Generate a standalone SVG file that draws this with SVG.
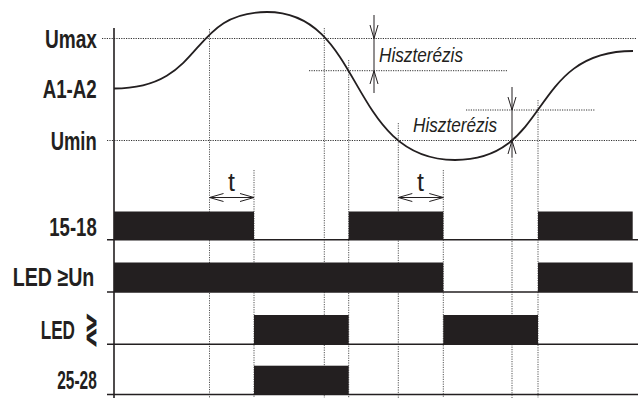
<svg xmlns="http://www.w3.org/2000/svg" width="639" height="398" viewBox="0 0 639 398">
<style>
.lbl{font-family:"Liberation Sans",Arial,sans-serif;font-weight:bold;font-size:26px;fill:#231f20}
.hys{font-family:"Liberation Sans",Arial,sans-serif;font-style:italic;font-size:21px;fill:#231f20}
.t{font-family:"Liberation Sans",Arial,sans-serif;font-size:25px;fill:#231f20;text-anchor:middle}
.dot{stroke:#333;stroke-width:1;stroke-dasharray:1.2 1.2;fill:none}
.vdot{stroke:#555;stroke-width:1;stroke-dasharray:1.2 1.2;fill:none}
.base{stroke:#231f20;stroke-width:1.5;fill:none}
.bar{fill:#231f20}
.thin{stroke:#231f20;stroke-width:1;fill:none}
</style>
<rect width="639" height="398" fill="#fff"/>
<g id="connectors">
  <g id="hdots">
    <line class="dot" x1="102" y1="38.5" x2="637" y2="38.5"/>
    <line class="dot" x1="107" y1="140.5" x2="637" y2="140.5"/>
    <line class="dot" x1="309" y1="70.7" x2="507" y2="70.7"/>
    <line class="dot" x1="466" y1="110" x2="595" y2="110"/>
  </g>
  <g id="vdots">
    <line class="vdot" x1="209.5" y1="29" x2="209.5" y2="398"/>
    <line class="vdot" x1="254" y1="170" x2="254" y2="398"/>
    <line class="vdot" x1="324.3" y1="28" x2="324.3" y2="398"/>
    <line class="vdot" x1="348.7" y1="60" x2="348.7" y2="398"/>
    <line class="vdot" x1="398.3" y1="123" x2="398.3" y2="398"/>
    <line class="vdot" x1="443.3" y1="170" x2="443.3" y2="398"/>
    <line class="vdot" x1="512" y1="157" x2="512" y2="398"/>
    <line class="vdot" x1="538" y1="100" x2="538" y2="398"/>
  </g>
  <g id="hyst-arrows">
    <line class="thin" x1="374" y1="15" x2="374" y2="93"/>
    <path class="thin" d="M370,25 L374,38.5 L378,25 M370,84 L374,70.7 L378,84"/>
    <line class="thin" x1="512" y1="87" x2="512" y2="157"/>
    <path class="thin" d="M508,97 L512,110 L516,97 M508,154 L512,140.5 L516,154"/>
  </g>
  <g id="t-arrows">
    <path class="thin" d="M209.5,197.5 L254,197.5 M223.5,193.5 L209.5,197.5 L223.5,201.5 M240,193.5 L254,197.5 L240,201.5"/>
    <path class="thin" d="M398.3,197.5 L443.3,197.5 M412.3,193.5 L398.3,197.5 L412.3,201.5 M429.3,193.5 L443.3,197.5 L429.3,201.5"/>
  </g>
</g>
<g id="axis">
  <line x1="114" y1="28" x2="114" y2="398" stroke="#231f20" stroke-width="1.6"/>
</g>
<g id="signal">
  <path d="M114,88.5 C205.8,88.5 187.4,12 267,12 C364.8,12 347.5,160 455,160 C551.7,160 528.5,51 633,51" fill="none" stroke="#231f20" stroke-width="1.8"/>
</g>
<g id="labels">
  <text class="lbl" x="45" y="47.5" textLength="52" lengthAdjust="spacingAndGlyphs">Umax</text>
  <text class="lbl" x="42.7" y="98.3" textLength="54" lengthAdjust="spacingAndGlyphs">A1-A2</text>
  <text class="lbl" x="50.7" y="149.5" textLength="46" lengthAdjust="spacingAndGlyphs">Umin</text>
  <text class="hys" x="379" y="62" textLength="84" lengthAdjust="spacingAndGlyphs">Hiszterézis</text>
  <text class="hys" x="413" y="132.3" textLength="84" lengthAdjust="spacingAndGlyphs">Hiszterézis</text>
  <text class="t" x="231.5" y="191">t</text>
  <text class="t" x="420.5" y="191">t</text>
</g>
<g id="row-15-18">
  <text class="lbl" x="49.3" y="235.7" textLength="47.4" lengthAdjust="spacingAndGlyphs">15-18</text>
  <line class="base" x1="107" y1="239.8" x2="638" y2="239.8"/>
  <rect class="bar" x="114" y="211.5" width="140" height="28.5"/>
  <rect class="bar" x="348.7" y="211.5" width="94.6" height="28.5"/>
  <rect class="bar" x="538" y="211.5" width="94.7" height="28.5"/>
</g>
<g id="row-led-un">
  <text class="lbl" x="12.7" y="286" textLength="81.6" lengthAdjust="spacingAndGlyphs">LED ≥Un</text>
  <line class="base" x1="107" y1="292" x2="638" y2="292"/>
  <rect class="bar" x="114" y="262.5" width="329.3" height="29.5"/>
  <rect class="bar" x="538" y="262.5" width="94.7" height="29.5"/>
</g>
<g id="row-led-gl">
  <text class="lbl" x="40.7" y="339.3"><tspan textLength="34.3" lengthAdjust="spacingAndGlyphs">LED</tspan><tspan x="85" y="342" font-family="'DejaVu Sans',sans-serif" font-size="42" textLength="13" lengthAdjust="spacingAndGlyphs">≷</tspan></text>
  <line class="base" x1="107" y1="344.3" x2="638" y2="344.3"/>
  <rect class="bar" x="254" y="315" width="94.7" height="29"/>
  <rect class="bar" x="443.3" y="315" width="94.7" height="29"/>
</g>
<g id="row-25-28">
  <text class="lbl" x="57.3" y="389.3" textLength="39.4" lengthAdjust="spacingAndGlyphs">25-28</text>
  <line class="base" x1="107" y1="394.5" x2="638" y2="394.5"/>
  <rect class="bar" x="254" y="365.7" width="94.7" height="29"/>
</g>
</svg>
